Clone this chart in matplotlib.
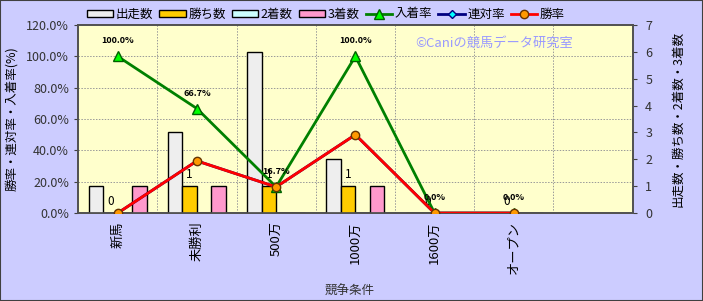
import numpy as np
import matplotlib
matplotlib.use("Agg")
import matplotlib.pyplot as plt
from matplotlib.patches import Rectangle

plt.rcParams['font.family'] = ['Noto Sans CJK JP', 'DejaVu Sans']

cats = ['新馬', '未勝利', '500万', '1000万', '1600万', 'オープン']
runs = [1, 3, 6, 2, 0, 0]
wins = [0, 1, 1, 1, 0, 0]
second = [0, 0, 0, 0, 0, 0]
third = [1, 1, 0, 1, 0, 0]
place_rate = [1.0, 0.667, 0.167, 1.0, 0.0, 0.0]
rentai_rate = [0.0, 0.333, 0.167, 0.5, 0.0, 0.0]
win_rate = [0.0, 0.333, 0.167, 0.5, 0.0, 0.0]
pct_ticks = [0, 0.2, 0.4, 0.6, 0.8, 1.0, 1.2]

bg = '#CCCCFF'
fig = plt.figure(figsize=(7.03, 3.01), dpi=100, facecolor=bg)
fig.patches.append(Rectangle((0, 0), 1, 1, transform=fig.transFigure,
                             fill=False, edgecolor='#404040', lw=1.5))

axl = fig.add_axes([0.111, 0.292, 0.789, 0.625])
axr = axl.twinx()
axl.set_zorder(axr.get_zorder() + 1)
axl.patch.set_visible(False)
axr.patch.set_visible(True)
axr.patch.set_facecolor('#FFFFCC')

x = np.arange(len(cats))
w = 0.183
series = [(runs, '#EEEEEE', '出走数'), (wins, '#FFCC00', '勝ち数'),
          (second, '#CCFFFF', '2着数'), (third, '#FF99CC', '3着数')]
handles = []
for k, (vals, col, lab) in enumerate(series):
    b = axr.bar(x + (k - 1.5) * w, vals, w, color=col, edgecolor='black',
                lw=1.0, label=lab, zorder=3)
    handles.append(b)
for i, v in enumerate(wins):
    axr.text(x[i] - 0.5 * w, v + 0.2, str(v), ha='center', va='bottom',
             fontsize=8.5, color='black', zorder=4)

# grid behind bars
for v in pct_ticks[1:-1]:
    axr.plot([0, 1], [v, v], transform=axl.get_yaxis_transform(),
             color='#999999', lw=0.7, ls=(0, (1.5, 1.5)), zorder=1)
for i in range(6):
    axr.axvline(i + 0.5, color='#999999', lw=0.7, ls=(0, (1.5, 1.5)), zorder=1)

h1, = axl.plot(x, place_rate, color='#008000', lw=2, marker='^', ms=7,
               mfc='#00FF00', mec='#006000', label='入着率', zorder=3)
h2, = axl.plot(x, rentai_rate, color='#000080', lw=2, marker='D', ms=4,
               mfc='#00FFFF', mec='#000080', label='連対率', zorder=3)
h3, = axl.plot(x, win_rate, color='#FF0000', lw=2, marker='o', ms=6,
               mfc='#FF9900', mec='#663300', label='勝率', zorder=4)
for i, v in enumerate(place_rate):
    axl.text(x[i], v + 0.07, '%.1f%%' % (v * 100), ha='center', va='bottom',
             fontsize=6.5, fontweight='bold', color='black', zorder=5)

axl.set_xlim(-0.5, 6.5)
axl.set_ylim(0, 1.2)
axr.set_ylim(0, 7)
axl.set_yticks(pct_ticks)
axl.set_yticklabels(['%.1f%%' % (v * 100) for v in pct_ticks])
axr.set_yticks(range(8))
axl.set_xticks(x)
axl.set_xticklabels(cats, rotation=90, va='top')
axl.tick_params(axis='x', length=0, pad=6, labelsize=9.5, labelcolor='black')
axl.tick_params(axis='y', labelsize=9, labelcolor='#333333', length=3, color='#404040')
axr.tick_params(axis='y', labelsize=9, labelcolor='#333333', length=3, color='#404040', pad=6)
for ax in (axl, axr):
    for s in ax.spines.values():
        s.set_color('#505050')
        s.set_linewidth(1.2)

axl.set_ylabel('勝率・連対率・入着率(%)', fontsize=9, labelpad=6)
axr.set_ylabel('出走数・勝ち数・2着数・3着数', fontsize=9, labelpad=14)
axl.set_xlabel('競争条件', fontsize=9, color='#333333', labelpad=6)
axl.xaxis.set_label_coords(0.49, -0.38)

axl.text(0.751, 0.9, '©Caniの競馬データ研究室', transform=axl.transAxes,
         ha='center', va='center', fontsize=9.5, color='#9999FF', zorder=5)

fig.legend(handles + [h1, h2, h3],
           ['出走数', '勝ち数', '2着数', '3着数', '入着率', '連対率', '勝率'],
           loc='upper left', bbox_to_anchor=(0.113, 1.0), ncol=7, frameon=False,
           fontsize=9, handlelength=2.1, handleheight=0.5, handletextpad=0.2,
           columnspacing=0.5, borderaxespad=0.2)

fig.savefig('out.png', dpi=100, facecolor=bg)
